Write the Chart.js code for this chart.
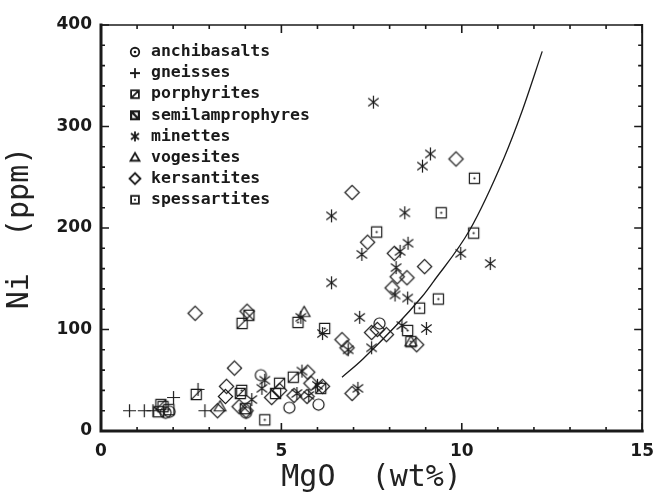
<!DOCTYPE html>
<html><head><meta charset="utf-8">
<script src="https://cdn.jsdelivr.net/npm/chart.js@4.4.1/dist/chart.umd.min.js"></script>
<style>html,body{margin:0;padding:0;background:#fff;}canvas{display:block;}</style>
</head><body>
<canvas id="c" width="664" height="501"></canvas>
<script>
// ---------- data ----------
const seriesNames = ['anchibasalts','gneisses','porphyrites','semilamprophyres','minettes','vogesites','kersantites','spessartites'];
const anchibasalts = [[7.72,106],[4.43,55],[5.22,23],[6.03,26],[4.02,18],[1.79,18],[1.9,19]];
const gneisses = [[0.79,20],[1.2,20],[1.44,20],[2.01,33],[2.69,41],[2.88,20]];
const porphyrites = [[3.91,106],[2.64,36],[4.95,47],[5.33,53],[1.66,26],[3.86,37],[6.09,42]];
const semilamprophyres = [[4.1,114],[4.84,37],[1.6,19],[4.0,22]];
const minettes = [[7.55,324],[9.13,273],[8.91,261],[6.39,212],[8.42,215],[7.23,174],[8.51,185],[8.29,177],
  [9.97,175],[10.79,165],[6.39,146],[8.18,161],[8.15,134],[8.5,131],[5.54,112],[7.17,112],[6.14,96],
  [8.34,104],[9.02,101],[6.85,80],[7.5,82],[4.54,50],[4.46,42],[5.57,59],[6.0,45],[5.43,37],[5.76,35],
  [7.12,42],[4.18,31]];
const vogesites = [[5.63,117],[8.59,88],[3.3,24]];
const kersantites = [[9.84,268],[6.96,235],[7.39,186],[8.13,175],[8.97,162],[8.21,152],[8.48,151],[8.07,141],
  [2.61,116],[4.05,118],[7.66,100],[7.5,97],[7.91,95],[6.68,90],[6.82,82],[8.75,85],[4.95,40],[4.73,33],
  [5.73,58],[5.82,47],[6.14,44],[5.35,35],[5.71,34],[6.96,37],[3.7,62],[3.48,44],[3.45,34],[3.83,24],
  [3.23,20],[4.02,20]];
const spessartites = [[10.35,249],[9.43,215],[7.64,196],[10.33,195],[9.35,130],[8.83,121],[5.46,107],[6.2,101],
  [8.5,99],[4.54,11],[1.88,21],[1.72,24],[3.9,40],[8.59,88]];
const trendCurve = [[6.68,53],[7.26,71],[8.89,132],[9.21,147],[10.22,198],[11.17,269],[11.66,314],[12.23,374]];
const xTickValues = [0,5,10,15];
const yTickValues = [0,100,200,300,400];

// ---------- styling ----------
const INK = '#1a1a1a';
function marker(kind, s, lw) {
  const size = Math.ceil(2*s + 6);
  const c = document.createElement('canvas'); c.width = c.height = size;
  const g = c.getContext('2d'); const m = size/2;
  g.strokeStyle = INK; g.fillStyle = INK; g.lineWidth = lw;
  const h = s*0.78;
  g.beginPath();
  switch (kind) {
    case 'circle': g.arc(m,m,s*0.85,0,Math.PI*2); g.stroke(); break;
    case 'circledot': g.arc(m,m,s*0.85,0,Math.PI*2); g.stroke(); g.beginPath(); g.arc(m,m,1.3,0,Math.PI*2); g.fill(); break;
    case 'plus': g.moveTo(m-s,m); g.lineTo(m+s,m); g.moveTo(m,m-s); g.lineTo(m,m+s); g.stroke(); break;
    case 'sqslash': g.rect(m-h,m-h,2*h,2*h); g.moveTo(m-h,m+h); g.lineTo(m+h,m-h); g.stroke(); break;
    case 'sqback': g.rect(m-h,m-h,2*h,2*h); g.moveTo(m-h,m-h); g.lineTo(m+h,m+h); g.stroke(); break;
    case 'star': {
      g.moveTo(m,m-s); g.lineTo(m,m+s);
      const dx = s*0.8, dy = s*0.6;
      g.moveTo(m-dx,m-dy); g.lineTo(m+dx,m+dy); g.moveTo(m-dx,m+dy); g.lineTo(m+dx,m-dy); g.stroke(); break; }
    case 'tri': g.moveTo(m,m-s*0.9); g.lineTo(m+s*0.9,m+s*0.65); g.lineTo(m-s*0.9,m+s*0.65); g.closePath(); g.stroke(); break;
    case 'diamond': g.moveTo(m,m-s*1.1); g.lineTo(m+s*1.1,m); g.lineTo(m,m+s*1.1); g.lineTo(m-s*1.1,m); g.closePath(); g.stroke(); break;
    case 'sqdot': g.rect(m-h,m-h,2*h,2*h); g.stroke(); g.beginPath(); g.arc(m,m,1.1,0,Math.PI*2); g.fill(); break;
  }
  return c;
}
const plotKinds = ['circle','plus','sqslash','sqback','star','tri','diamond','sqdot'];
const legendKinds = ['circledot','plus','sqslash','sqback','star','tri','diamond','sqdot'];
const seriesData = [anchibasalts,gneisses,porphyrites,semilamprophyres,minettes,vogesites,kersantites,spessartites];
const plotMarkers = plotKinds.map(k => marker(k, 6.5, 1.2));
const legendMarkers = legendKinds.map((k,i) => marker(k, 5, i===3 ? 2.2 : 1.8));

const datasets = seriesNames.map((name,i) => ({
  label: name,
  data: seriesData[i].map(p => ({x:p[0], y:p[1]})),
  pointStyle: plotMarkers[i],
  pointRadius: 6, pointHoverRadius: 6,
  showLine: false
}));
datasets.unshift({
  label: 'curve', type: 'line',
  data: trendCurve.map(p => ({x:p[0], y:p[1]})),
  borderColor: INK, borderWidth: 1.3, pointRadius: 0, fill: false,
  tension: 0.4, cubicInterpolationMode: 'monotone'
});

const framePlugin = {
  id: 'frame',
  afterDatasetsDraw(chart) {
    const {ctx, chartArea:a, scales:{x, y}} = chart;
    ctx.save();
    ctx.strokeStyle = INK; ctx.lineCap = 'square';
    ctx.lineWidth = 1.5;
    ctx.beginPath(); ctx.moveTo(a.left,a.top); ctx.lineTo(a.right,a.top); ctx.stroke();
    ctx.lineWidth = 2;
    ctx.beginPath(); ctx.moveTo(a.right,a.top); ctx.lineTo(a.right,a.bottom); ctx.stroke();
    ctx.lineWidth = 3;
    ctx.beginPath(); ctx.moveTo(a.left,a.top); ctx.lineTo(a.left,a.bottom); ctx.lineTo(a.right,a.bottom); ctx.stroke();
    ctx.lineWidth = 1.6; ctx.lineCap = 'butt';
    ctx.beginPath();
    for (let v = x.min; v <= x.max; v += 1) {
      const px = x.getPixelForValue(v); const len = (v % 5 === 0) ? 8 : 4;
      ctx.moveTo(px, a.bottom); ctx.lineTo(px, a.bottom - len);
      ctx.moveTo(px, a.top); ctx.lineTo(px, a.top + len);
    }
    for (let v = y.min; v <= y.max; v += 20) {
      const py = y.getPixelForValue(v); const len = (v % 100 === 0) ? 8 : 4;
      ctx.moveTo(a.left, py); ctx.lineTo(a.left + len, py);
      ctx.moveTo(a.right, py); ctx.lineTo(a.right - len, py);
    }
    ctx.stroke();
    ctx.restore();
  }
};

const legendPlugin = {
  id: 'insideLegend',
  afterDraw(chart) {
    const ctx = chart.ctx;
    ctx.save();
    ctx.fillStyle = INK;
    ctx.font = 'bold 16.5px "DejaVu Sans Mono"';
    ctx.textBaseline = 'middle'; ctx.textAlign = 'left';
    seriesNames.forEach((name, i) => {
      const cy = 52 + i*21.1;
      const mk = legendMarkers[i];
      ctx.drawImage(mk, 135 - mk.width/2, cy - mk.height/2);
      ctx.fillText(name, 151, cy);
    });
    ctx.restore();
  }
};

new Chart(document.getElementById('c'), {
  type: 'scatter',
  data: { datasets },
  options: {
    responsive: false, animation: false, devicePixelRatio: 1,
    layout: { padding: { top: 25, right: 11, left: 0, bottom: 0 } },
    plugins: { legend: { display: false }, tooltip: { enabled: false } },
    scales: {
      x: {
        type: 'linear', min: 0, max: 15,
        afterFit(s) { s.height = 70; },
        afterBuildTicks(s) { s.ticks = xTickValues.map(v => ({value: v})); },
        grid: { display: false, drawTicks: false },
        border: { display: false },
        ticks: { color: INK, padding: 10, font: { family: '"DejaVu Sans"', size: 17, weight: 'bold' }, maxRotation: 0 },
        title: { display: true, text: 'MgO  (wt%)', color: '#222', font: { family: '"DejaVu Sans Mono"', size: 30 }, padding: { top: 0, bottom: 5 } }
      },
      y: {
        type: 'linear', min: 0, max: 400,
        afterFit(s) { s.width = 101; },
        afterBuildTicks(s) { s.ticks = yTickValues.map(v => ({value: v})); },
        grid: { display: false, drawTicks: false },
        border: { display: false },
        ticks: { color: INK, padding: 9, font: { family: '"DejaVu Sans"', size: 17, weight: 'bold' } },
        title: { display: true, text: 'Ni  (ppm)', color: '#222', font: { family: '"DejaVu Sans Mono"', size: 30 }, padding: { top: 2, bottom: 0 } }
      }
    }
  },
  plugins: [framePlugin, legendPlugin]
});
</script>
</body></html>
